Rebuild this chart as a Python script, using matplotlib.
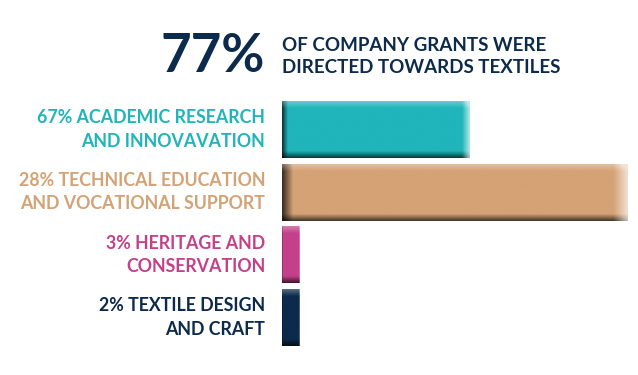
import matplotlib.pyplot as plt
import numpy as np
from matplotlib.colors import to_rgb

# data
labels = ["67% ACADEMIC RESEARCH\nAND INNOVAVATION",
          "28% TECHNICAL EDUCATION\nAND VOCATIONAL SUPPORT",
          "3% HERITAGE AND\nCONSERVATION",
          "2% TEXTILE DESIGN\nAND CRAFT"]
values = [188, 346, 18, 18]  # bar lengths as drawn in the source
colors = ["#1FB5BA", "#D4A275", "#C4418A", "#0C2A4C"]
headline_pct = "77%"
headline_text = "OF COMPANY GRANTS WERE\nDIRECTED TOWARDS TEXTILES"

FONT = "Lato"

fig = plt.figure(figsize=(6.38, 3.75), dpi=100)
ax = fig.add_axes([282 / 638, 0.0699, 1 - 282 / 638, 0.738 - 0.0699])

y = np.arange(len(values))
bars = ax.barh(y, values, height=0.91, color=colors)
ax.set_xlim(0, max(values) * 356 / 346)
ax.set_ylim(3.5, -0.5)
ax.axis("off")


def shade(c):
    # bevel look: dark left / bottom edge, light right / top edge
    r, g, b = to_rgb(c)
    nx, ny = 200, 60
    xs = np.linspace(0, 1, nx)
    ys = np.linspace(0, 1, ny)
    f = np.ones((ny, nx))
    f *= np.where(xs < 0.03, 0.3 + 0.7 * xs / 0.03, 1.0)[None, :]
    f *= np.where(ys > 0.88, 1 - 0.65 * (ys - 0.88) / 0.12, 1.0)[:, None]
    light = np.where(xs > 0.96, (xs - 0.96) / 0.04 * 0.65, 0.0)[None, :] + \
        np.where(ys < 0.12, (0.12 - ys) / 0.12 * 0.3, 0.0)[:, None]
    light = np.clip(light, 0, 0.7)
    img = np.zeros((ny, nx, 3))
    for k, ch in enumerate((r, g, b)):
        img[:, :, k] = ch * f
        img[:, :, k] = img[:, :, k] + (1 - img[:, :, k]) * light
    return np.clip(img, 0, 1)


for p, c in zip(bars, colors):
    x0, y0, w, h = p.get_x(), p.get_y(), p.get_width(), p.get_height()
    im = ax.imshow(shade(c), extent=[x0, x0 + w, y0 + h, y0], aspect="auto",
                   interpolation="bilinear", zorder=3)
    im.set_clip_path(p)

for i, (lab, c) in enumerate(zip(labels, colors)):
    ax.annotate(lab, xy=(0, i), xytext=(-12, 0), textcoords="offset points",
                ha="right", va="center", color=c, fontsize=12.8,
                fontweight="bold", family=FONT, linespacing=1.45)

fig.text(265 / 638, 1 - 56 / 375, headline_pct, ha="right", va="center",
         color="#0C2A4C", fontsize=38, fontweight="bold", family=FONT)
fig.text(282 / 638, 1 - 56.5 / 375, headline_text, ha="left", va="center",
         color="#0C2A4C", fontsize=13.5, fontweight="bold", family=FONT,
         linespacing=1.4)

fig.savefig("out.png", dpi=100)
